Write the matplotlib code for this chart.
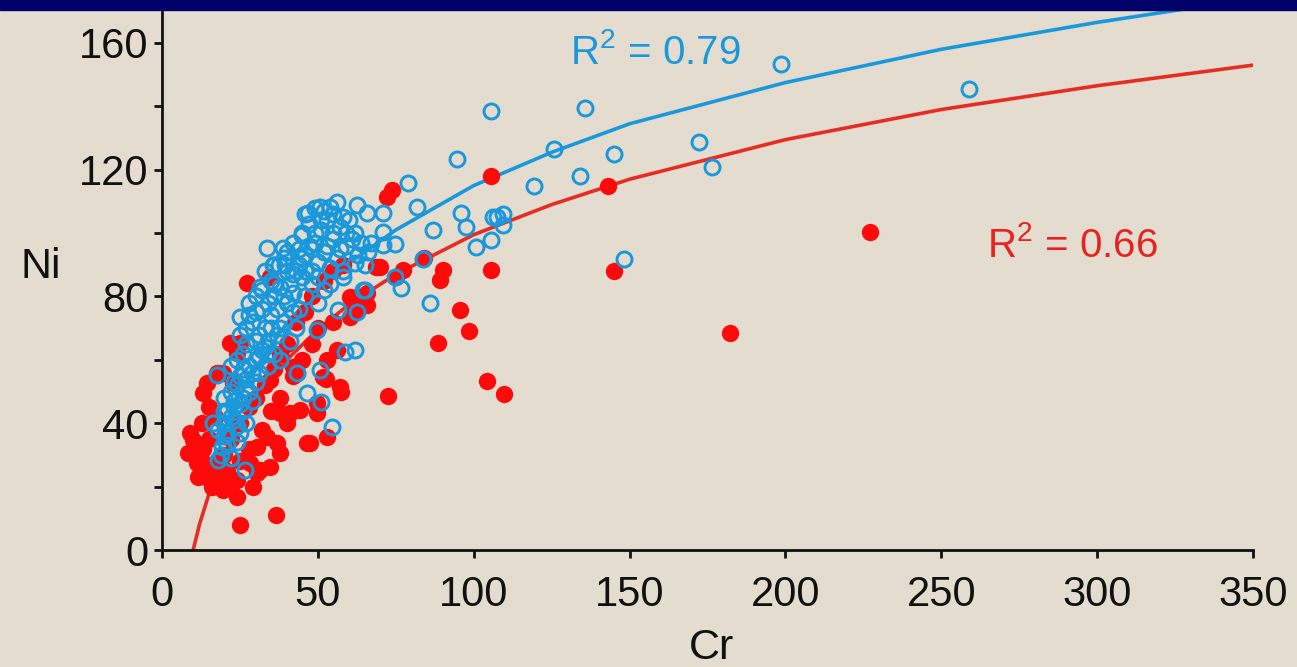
import numpy as np
import matplotlib
matplotlib.use('Agg')
import matplotlib.pyplot as plt
from matplotlib.patches import Rectangle

plt.rcParams['font.family'] = ['Liberation Sans', 'DejaVu Sans']
plt.rcParams['mathtext.fontset'] = 'custom'
plt.rcParams['mathtext.rm'] = 'Liberation Sans'
plt.rcParams['mathtext.it'] = 'Liberation Sans:italic'

# Red group (filled dots): Cr, Ni
red_cr = [227.1, 182.2, 145.0, 143.1, 105.5, 105.5, 104.3, 109.7, 98.5, 95.6,
          90.2, 89.2, 88.5, 84.1, 77.2, 72.5, 73.7, 72.1, 57.4, 52.6,
          52.8, 46.4, 47.5, 36.5, 25.0, 27.2, 34.6, 60.3, 61.4, 25.0,
          19.7, 51.7, 43.2, 34.6, 14.3, 22.9, 57.1, 13.3, 9.0, 8.4,
          11.6, 12.7, 19.7, 24.0, 29.3, 37.9, 34.6, 30.4, 40.0, 44.3,
          49.6, 37.9, 33.6, 30.4, 28.2, 24.0, 15.4, 11.1, 62.5, 64.6,
          10.0, 21.8, 21.8, 24.0, 68.8, 75.2, 42.1, 65.7, 49.6, 41.1,
          36.8, 31.4, 17.5, 83.6, 69.9, 65.7, 60.3, 62.5, 20.0, 22.0,
          25.0, 28.0, 30.0, 33.0, 36.0, 38.0, 40.0, 43.0, 46.0, 48.0,
          52.0, 55.0, 58.0, 45.0, 42.0, 48.0, 50.0, 55.0, 38.0, 35.0,
          32.0, 28.0, 25.0, 18.0, 15.0, 17.0, 15.0, 13.0, 14.0, 18.0,
          16.0, 21.0, 53.0, 56.0]
red_ni = [100.3, 68.5, 88.0, 114.9, 118.0, 88.4, 53.3, 49.2, 69.1, 75.7,
          88.4, 85.2, 65.3, 92.1, 88.4, 48.5, 113.6, 111.5, 50.0, 54.0,
          35.8, 33.7, 33.7, 11.0, 8.0, 84.4, 86.2, 79.9, 74.7, 65.2,
          55.8, 54.7, 55.8, 53.6, 52.6, 52.6, 51.5, 49.4, 36.8, 30.5,
          23.1, 40.0, 18.9, 16.8, 20.0, 30.5, 26.3, 24.2, 40.0, 44.2,
          46.3, 43.1, 35.8, 32.6, 27.4, 22.1, 22.1, 27.4, 75.7, 77.8,
          34.7, 21.0, 65.2, 62.1, 89.4, 86.2, 57.8, 81.0, 43.1, 43.1,
          33.7, 25.2, 55.8, 91.7, 89.4, 77.3, 73.6, 79.9, 30.0, 35.0,
          40.0, 45.0, 48.0, 52.0, 57.0, 62.0, 65.0, 72.0, 75.0, 80.0,
          85.0, 88.0, 90.0, 60.0, 55.0, 65.0, 70.0, 72.0, 48.0, 44.0,
          38.0, 32.0, 28.0, 28.0, 35.0, 42.0, 45.0, 32.0, 27.0, 24.0,
          20.0, 25.0, 60.0, 63.0]

# Blue group (open circles): Cr, Ni
blue_cr = [105.4, 135.7, 94.5, 125.8, 145.0, 172.4, 176.3, 134.1, 119.4, 95.9,
           97.5, 100.7, 105.4, 107.4, 109.5, 109.3, 106.2, 148.2, 198.6, 259.0,
           78.8, 81.9, 86.8, 83.6, 74.8, 76.6, 86.0, 61.9, 58.7, 62.5,
           65.1, 71.0, 74.8, 71.0, 65.7, 62.5, 56.0, 53.9, 50.7, 46.9,
           50.7, 46.4, 50.9, 54.4, 44.8, 33.6, 38.9, 35.6, 37.5, 39.5,
           31.4, 25.0, 17.5, 26.6, 18.1, 19.1, 16.5, 43.2, 49.6, 56.6,
           61.9, 64.6, 71.0,
           19, 21, 22, 24, 20,
           18, 20, 22, 24, 26, 23, 21, 25, 27,
           20, 22, 24, 26, 28, 30, 25, 23, 27, 29,
           22, 24, 26, 28, 30, 32, 34, 36, 27, 31, 38,
           25, 27, 29, 31, 33, 35, 37, 39, 41, 30, 43, 34,
           28, 30, 32, 34, 36, 38, 40, 42, 44, 46, 48, 35, 50, 52,
           33, 36, 39, 42, 44, 46, 48, 50, 52, 54, 56, 58, 40, 45,
           42, 45, 47, 49, 51, 53, 55, 57, 59, 62, 64, 66, 60, 48,
           46, 49, 52, 55, 58,
           21, 23, 25, 27, 29, 31, 33, 35, 37, 39, 41, 43, 45, 47, 49, 51, 53,
           55, 57, 59, 61, 63, 65, 67, 58, 54, 50, 46, 42, 38, 34, 30, 26, 23,
           20, 28, 32, 36, 40, 44]
blue_ni = [138.6, 139.4, 123.3, 126.4, 124.9, 128.7, 121.0, 118.0, 114.9, 106.4,
           102.0, 95.7, 97.8, 105.2, 106.0, 102.6, 105.2, 91.8, 153.3, 145.4,
           115.7, 108.1, 101.0, 91.7, 86.0, 82.6, 78.0, 63.1, 62.6, 75.2,
           82.0, 100.2, 96.6, 106.4, 106.2, 108.9, 109.9, 108.3, 108.3, 106.2,
           56.8, 49.4, 46.8, 38.9, 99.4, 95.2, 95.2, 89.9, 89.9, 89.9,
           83.1, 73.6, 55.2, 25.2, 28.4, 32.6, 40.0, 55.8, 69.4, 75.7,
           90.5, 82.0, 96.2,
           30, 33, 29, 34, 36,
           38, 40, 42, 39, 44, 45, 44, 37, 40,
           48, 50, 52, 48, 50, 53, 55, 47, 54, 47,
           58, 60, 62, 58, 60, 63, 58, 62, 65, 56, 60,
           68, 70, 72, 68, 70, 74, 68, 72, 66, 75, 70, 66,
           78, 80, 82, 78, 80, 83, 78, 81, 76, 80, 84, 85, 78, 82,
           88, 90, 92, 87, 90, 93, 88, 91, 94, 89, 92, 86, 94, 86,
           97, 100, 103, 97, 101, 104, 98, 102, 96, 100, 97, 94, 104, 95,
           106, 108, 107, 106, 105,
           37, 41, 46, 51, 56, 61, 64, 70, 76, 80, 84, 88, 92, 96, 100, 104, 96,
           100, 95, 100, 98, 93, 90, 97, 88, 84, 86, 88, 75, 70, 62, 66, 57, 53,
           44, 74, 76, 84, 88, 95]

# Logarithmic trend lines
fit_cr_red = [10, 12, 15, 20, 25, 30, 40, 50, 60, 75, 100, 125, 150, 200, 250, 300, 350]
fit_ni_red = [0, 8, 17.5, 30, 39.5, 47.5, 60, 69.5, 77.5, 87, 99.5, 109, 117, 129.5, 139, 146.5, 153]
fit_cr_blue = [18, 25, 30, 40, 50, 60, 75, 100, 125, 150, 200, 250, 300, 340]
fit_ni_blue = [33.5, 49, 57.5, 71.5, 82, 90.5, 101, 115, 125.5, 134.5, 147.5, 158, 166.5, 172.5]

bg = '#e3dccf'
red = '#ff0a0a'
blue = '#1a98dc'
ink = '#111111'

fig = plt.figure(figsize=(12.97, 6.67), dpi=100, facecolor=bg)
ax = fig.add_axes([0.1249, 0.1754, 0.8412, 0.8096])
ax.set_facecolor(bg)

ax.plot(fit_cr_red, fit_ni_red, color='#e52d24', lw=2.6, zorder=2)
ax.plot(fit_cr_blue, fit_ni_blue, color=blue, lw=2.6, zorder=2)
ax.plot(red_cr, red_ni, 'o', color=red, ms=12.5, mew=0, zorder=3)
ax.plot(blue_cr, blue_ni, 'o', mfc='none', mec=blue, ms=10.8, mew=2.1, zorder=4)

ax.text(131, 153.4, r'$\mathrm{R}^{2}$ = 0.79', color=blue, fontsize=29, zorder=5)
ax.text(264.7, 92.5, r'$\mathrm{R}^{2}$ = 0.66', color='#e8231f', fontsize=29, zorder=5)

ax.set_xlim(0, 350)
ax.set_ylim(0, 170.4)
ax.set_xticks(range(0, 351, 50))
ax.set_yticks(range(0, 161, 40))
ax.set_yticks(range(20, 161, 40), minor=True)
for s in ['top', 'right']:
    ax.spines[s].set_visible(False)
for s in ['left', 'bottom']:
    ax.spines[s].set_linewidth(2)
    ax.spines[s].set_color(ink)
ax.tick_params(axis='both', which='both', direction='out', length=6, width=2,
               color=ink, labelsize=30, labelcolor=ink)
ax.tick_params(axis='x', pad=12)
ax.tick_params(axis='y', pad=4)

ax.set_xlabel('Cr', fontsize=31, color=ink, va='center')
ax.xaxis.set_label_coords(0.504, -0.181)
ax.set_ylabel('Ni', fontsize=31, color=ink, rotation=0, ha='center', va='center')
ax.yaxis.set_label_coords(-0.111, 0.524)

# navy strip along the top edge
fig.patches.append(Rectangle((0, 1 - 10 / 667), 1, 10 / 667, transform=fig.transFigure,
                             color='#000068', zorder=10))

fig.savefig('out.png', dpi=100, facecolor=bg)
